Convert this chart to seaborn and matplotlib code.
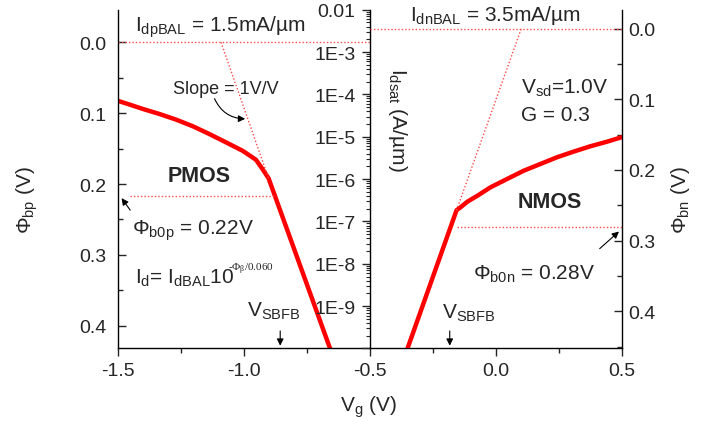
import numpy as np
import matplotlib
matplotlib.use('Agg')
import matplotlib.pyplot as plt
import seaborn as sns
from matplotlib.ticker import FixedLocator, LogLocator, NullFormatter, MultipleLocator

# PMOS barrier height vs gate voltage (left axis)
pmos_vg = [-1.5, -1.451, -1.399, -1.333, -1.267, -1.201, -1.136, -1.070, -1.004,
           -0.951, -0.925, -0.901, -0.657]
pmos_phi = [0.0825, 0.0881, 0.0942, 0.1013, 0.1093, 0.1186, 0.1295, 0.1412, 0.1531,
            0.1658, 0.179, 0.192, 0.432]
# NMOS barrier height vs gate voltage (right axis)
nmos_vg = [-0.35, -0.155, -0.139, -0.112, -0.072, -0.020, 0.046, 0.112, 0.178,
           0.244, 0.310, 0.376, 0.442, 0.5]
nmos_phi = [0.453, 0.257, 0.2528, 0.2449, 0.2364, 0.2245, 0.2127, 0.201, 0.1915,
            0.182, 0.174, 0.1665, 0.160, 0.1537]

# slope = 1V/V guide lines
pmos_slope_vg = [-1.09, -0.901]
pmos_slope_phi = [0.0, 0.192]
nmos_slope_vg = [-0.155, 0.102]
nmos_slope_phi = [0.257, 0.0]

# reference barrier heights
phi_b0p = 0.2175
phi_b0n = 0.281
vsbfb_p = -0.855
vsbfb_n = -0.182

x_ticks = [-1.5, -1.0, -0.5, 0.0, 0.5]
x_ticklabels = ['-1.5', '-1.0', '-0.5', '0.0', '0.5']
phi_ticks = [0.0, 0.1, 0.2, 0.3, 0.4]
phi_ticklabels = ['0.0', '0.1', '0.2', '0.3', '0.4']
i_ticks = [1e-2, 1e-3, 1e-4, 1e-5, 1e-6, 1e-7, 1e-8, 1e-9, 1e-10]
i_ticklabels = ['0.01', '1E-3', '1E-4', '1E-5', '1E-6', '1E-7', '1E-8', '1E-9', '']

sns.set_style('ticks')
plt.rcParams['font.family'] = ['Liberation Sans', 'DejaVu Sans']
plt.rcParams['mathtext.default'] = 'regular'
TS = 14     # tick labels
FS = 15     # annotations

fig = plt.figure(figsize=(7.1, 4.27), dpi=100)
ax = fig.add_axes([0.1658, 0.1815, 0.8754 - 0.1658, 0.975 - 0.1815])
ax2 = ax.twinx()
ax3 = ax.twinx()

red = '#ff0000'
dot = '#ff4a4a'
dls = (0, (1, 1.5))

# left axis (PMOS)
sns.lineplot(x=pmos_vg, y=pmos_phi, ax=ax, color=red, lw=3.2, sort=False)
ax.plot([-1.5, -0.5], [0, 0], color=dot, lw=1, ls=dls)
ax.plot([-1.45, -0.875], [phi_b0p, phi_b0p], color=dot, lw=1, ls=dls)
ax.plot(pmos_slope_vg, pmos_slope_phi, color=dot, lw=1, ls=dls)
ax.set_xlim(-1.5, 0.5)
ax.set_ylim(0.432, -0.046)
ax.set_xticks(x_ticks)
ax.set_xticklabels(x_ticklabels)
ax.xaxis.set_minor_locator(MultipleLocator(0.25))
ax.set_yticks(phi_ticks)
ax.set_yticklabels(phi_ticklabels)
ax.yaxis.set_minor_locator(MultipleLocator(0.05))
ax.tick_params(axis='x', direction='out', length=6, width=1, labelsize=TS, pad=4)
ax.tick_params(axis='x', which='minor', direction='out', length=3.5, width=1)
ax.tick_params(axis='y', direction='in', length=6, width=1, labelsize=TS, pad=8)
ax.tick_params(axis='y', which='minor', direction='in', length=3.5, width=1)
for s in ['top', 'right']:
    ax.spines[s].set_visible(False)

# middle log axis (Idsat)
ax2.set_yscale('log')
ax2.set_ylim(1e-10, 1e-2)
ax2.spines['left'].set_visible(True)
ax2.spines['left'].set_position(('axes', 0.5))
for s in ['top', 'right', 'bottom']:
    ax2.spines[s].set_visible(False)
ax2.yaxis.set_ticks_position('left')
ax2.yaxis.set_major_locator(FixedLocator(i_ticks))
ax2.set_yticklabels(i_ticklabels)
ax2.yaxis.set_minor_locator(LogLocator(base=10, subs=np.arange(2, 10), numticks=20))
ax2.yaxis.set_minor_formatter(NullFormatter())
ax2.tick_params(axis='y', direction='out', length=6, width=1, labelsize=TS, pad=4)
ax2.tick_params(axis='y', which='minor', direction='out', length=3, width=0.8)

# right axis (NMOS)
sns.lineplot(x=nmos_vg, y=nmos_phi, ax=ax3, color=red, lw=3.2, sort=False)
ax3.plot([-0.5, 0.5], [0, 0], color=dot, lw=1, ls=dls)
ax3.plot([-0.155, 0.5], [phi_b0n, phi_b0n], color=dot, lw=1, ls=dls)
ax3.plot(nmos_slope_vg, nmos_slope_phi, color=dot, lw=1, ls=dls)
ax3.set_ylim(0.4527, -0.0269)
ax3.set_yticks(phi_ticks)
ax3.set_yticklabels(phi_ticklabels)
ax3.yaxis.set_minor_locator(MultipleLocator(0.05))
ax3.tick_params(axis='y', direction='in', length=6, width=1, labelsize=TS, pad=5)
ax3.tick_params(axis='y', which='minor', direction='in', length=3.5, width=1)
for s in ['top', 'left', 'bottom']:
    ax3.spines[s].set_visible(False)

for a in (ax, ax2, ax3):
    for s in a.spines.values():
        s.set_linewidth(1)
        s.set_color('black')

arrow = dict(arrowstyle='-|>', color='black', lw=0.8, mutation_scale=10)

# PMOS annotations
ax.text(-1.431, -0.0164, '$I_{dpBAL}$ = 1.5mA/\u00b5m', fontsize=FS, ha='left', va='baseline')
ax.text(-1.28, 0.072, 'Slope = 1V/V', fontsize=13, ha='left', va='baseline')
ax.annotate('', xy=(-0.983, 0.108), xytext=(-1.12, 0.0759),
            arrowprops=dict(arrow, connectionstyle='arc3,rad=0.35'))
ax.text(-1.30, 0.1955, 'PMOS', fontsize=15.5, fontweight='bold', ha='left', va='baseline')
ax.text(-1.444, 0.2707, '\u03a6$_{b0p}$ = 0.22V', fontsize=FS, ha='left', va='baseline')
ax.annotate('', xy=(-1.491, 0.2167), xytext=(-1.444, 0.24), arrowprops=arrow)
ax.text(-1.431, 0.339, '$I_d$= $I_{dBAL}$10', fontsize=FS, ha='left', va='baseline')
ax.text(-1.064, 0.322, '-\u03a6$_\u03b2$/0.060', fontsize=8, ha='left', va='baseline',
        family=['Liberation Serif', 'DejaVu Serif'])
ax.text(-0.986, 0.386, '$V_{SBFB}$', fontsize=FS, ha='left', va='baseline')
ax.annotate('', xy=(vsbfb_p, 0.0), xytext=(vsbfb_p, 0.06),
            xycoords=('data', 'axes fraction'), textcoords=('data', 'axes fraction'),
            arrowprops=arrow)

# NMOS annotations
ax3.text(-0.339, -0.0127, '$I_{dnBAL}$ = 3.5mA/\u00b5m', fontsize=FS, ha='left', va='baseline')
ax3.text(0.1, 0.09, '$V_{sd}$=1.0V', fontsize=FS, ha='left', va='baseline')
ax3.text(0.1, 0.1287, 'G = 0.3', fontsize=FS, ha='left', va='baseline')
ax3.text(0.088, 0.252, 'NMOS', fontsize=15.5, fontweight='bold', ha='left', va='baseline')
ax3.text(-0.088, 0.354, '\u03a6$_{b0n}$ = 0.28V', fontsize=FS, ha='left', va='baseline')
ax3.annotate('', xy=(0.498, 0.2845), xytext=(0.405, 0.314), arrowprops=arrow)
ax3.text(-0.211, 0.4085, '$V_{SBFB}$', fontsize=FS, ha='left', va='baseline')
ax3.annotate('', xy=(vsbfb_n, 0.0), xytext=(vsbfb_n, 0.06),
             xycoords=('data', 'axes fraction'), textcoords=('data', 'axes fraction'),
             arrowprops=arrow)

# axis titles
fig.text(27 / 710, 1 - 200 / 427, '\u03a6$_{bp}$ (V)', fontsize=FS, rotation=90, ha='center', va='center')
fig.text(397 / 710, 1 - 120 / 427, '$I_{dsat}$ (A/\u00b5m)', fontsize=FS, rotation=270, ha='center', va='center')
fig.text(680 / 710, 1 - 200 / 427, '\u03a6$_{bn}$ (V)', fontsize=FS, rotation=90, ha='center', va='center')
fig.text(369 / 710, 1 - 407 / 427, '$V_g$ (V)', fontsize=FS, ha='center', va='center')

fig.savefig('out.png', dpi=100)
